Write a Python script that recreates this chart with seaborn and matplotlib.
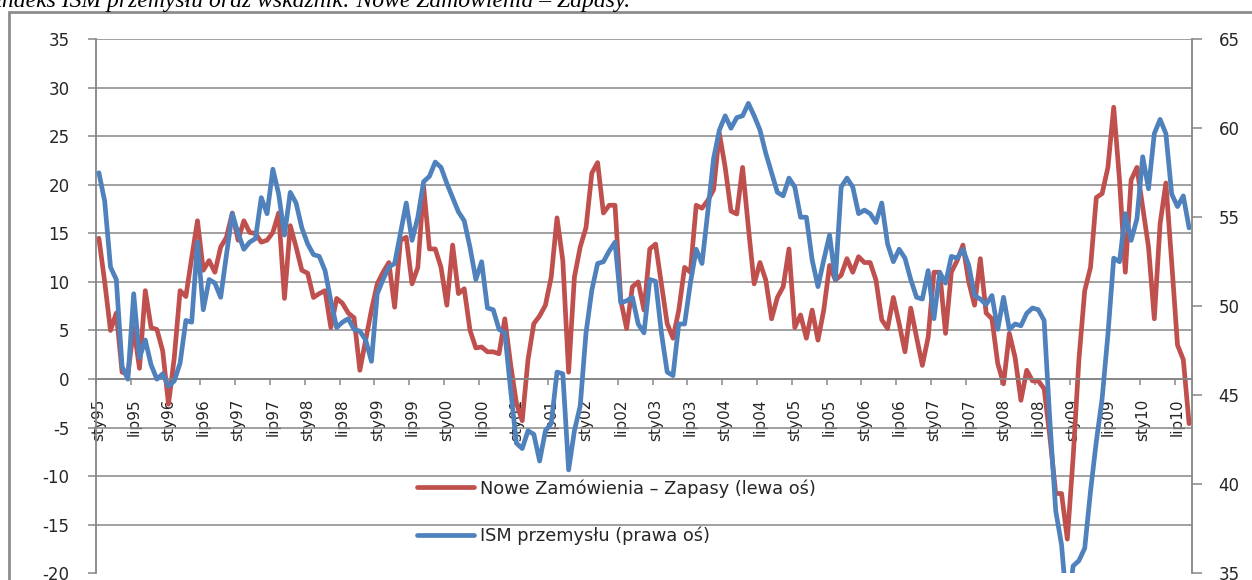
import numpy as np
import pandas as pd
import matplotlib
matplotlib.use("Agg")
import matplotlib.pyplot as plt
import seaborn as sns
from matplotlib.patches import Rectangle
from matplotlib.lines import Line2D

# ---------------- data (monthly, Jan 1995 - Sep 2010) ----------------
nz_minus_zapasy = [
    14.5, 10.0, 5.0, 6.8, 0.7, 0.5, 5.3, 1.1, 9.1, 5.3,
    5.1, 2.9, -2.6, 2.2, 9.1, 8.5, 12.5, 16.3, 11.2, 12.2,
    11.0, 13.6, 14.6, 17.1, 14.3, 16.3, 15.1, 15.0, 14.1, 14.3,
    15.1, 17.1, 8.3, 15.8, 13.6, 11.2, 10.9, 8.4, 8.8, 9.1,
    5.3, 8.3, 7.8, 6.8, 6.3, 0.9, 4.0, 7.1, 9.8, 11.0,
    12.0, 7.4, 14.3, 14.6, 9.8, 11.5, 19.8, 13.4, 13.4, 11.5,
    7.6, 13.8, 8.8, 9.3, 5.0, 3.2, 3.3, 2.8, 2.8, 2.6,
    6.2, 1.5, -2.5, -4.3, 2.0, 5.7, 6.5, 7.6, 10.5, 16.6,
    12.2, 0.7, 10.5, 13.6, 15.6, 21.2, 22.3, 17.1, 17.9, 17.9,
    8.1, 5.2, 9.5, 10.0, 7.1, 13.4, 13.9, 9.8, 5.7, 4.2,
    7.1, 11.5, 11.0, 17.9, 17.6, 18.4, 19.5, 25.3, 21.8, 17.3,
    17.0, 21.8, 15.6, 9.8, 12.0, 10.2, 6.2, 8.4, 9.5, 13.4,
    5.3, 6.6, 4.2, 7.1, 4.0, 7.1, 11.7, 10.2, 10.7, 12.4,
    11.0, 12.6, 12.0, 12.0, 10.2, 6.1, 5.2, 8.4, 5.7, 2.8,
    7.3, 4.3, 1.4, 4.3, 11.0, 11.0, 4.7, 11.0, 12.2, 13.8,
    10.0, 7.6, 12.4, 6.8, 6.2, 1.6, -0.5, 4.7, 2.2, -2.2,
    0.9, -0.2, -0.2, -1.0, -6.0, -11.8, -11.8, -16.5, -8.1, 2.0,
    9.1, 11.5, 18.7, 19.1, 21.8, 28.0, 20.5, 11.0, 20.5, 21.8,
    17.7, 13.6, 6.2, 16.0, 20.2, 12.0, 3.5, 2.0, -4.6,
]

ism = [
    57.5, 55.9, 52.2, 51.5, 46.6, 45.9, 50.7, 47.1, 48.1, 46.7,
    45.9, 46.2, 45.5, 45.8, 46.8, 49.2, 49.1, 53.6, 49.8, 51.5,
    51.3, 50.5, 52.9, 55.2, 54.1, 53.2, 53.6, 53.8, 56.1, 55.2,
    57.7, 56.3, 54.0, 56.4, 55.8, 54.4, 53.5, 52.9, 52.8, 52.0,
    50.3, 48.8, 49.1, 49.3, 48.7, 48.6, 48.1, 46.9, 50.7, 51.5,
    52.2, 52.4, 54.1, 55.8, 53.7, 55.0, 57.0, 57.3, 58.1, 57.8,
    56.9, 56.1, 55.3, 54.8, 53.3, 51.5, 52.5, 49.9, 49.8, 48.7,
    48.5, 45.3, 42.3, 42.0, 43.0, 42.8, 41.3, 43.0, 43.4, 46.3,
    46.2, 40.8, 43.0, 44.4, 48.5, 50.9, 52.4, 52.5, 53.1, 53.6,
    50.2, 50.3, 50.5, 49.0, 48.5, 51.5, 51.4, 48.5, 46.3, 46.1,
    49.0, 49.0, 51.3, 53.2, 52.4, 55.3, 58.3, 59.9, 60.7, 60.0,
    60.6, 60.7, 61.4, 60.7, 59.9, 58.6, 57.5, 56.4, 56.2, 57.2,
    56.7, 55.0, 55.0, 52.6, 51.1, 52.6, 54.0, 51.5, 56.7, 57.2,
    56.7, 55.2, 55.4, 55.2, 54.7, 55.8, 53.5, 52.5, 53.2, 52.7,
    51.5, 50.5, 50.4, 52.0, 49.3, 51.9, 51.3, 52.8, 52.7, 53.2,
    52.3, 50.6, 50.4, 50.1, 50.6, 48.7, 50.5, 48.7, 49.0, 48.9,
    49.6, 49.9, 49.8, 49.2, 43.5, 38.5, 36.6, 32.8, 35.4, 35.7,
    36.4, 39.6, 42.4, 44.8, 48.4, 52.7, 52.5, 55.2, 53.7, 54.9,
    58.4, 56.6, 59.7, 60.5, 59.7, 56.3, 55.6, 56.2, 54.4,
]

tick_labels = [
    "sty95", "lip95", "sty96", "lip96", "sty97", "lip97", "sty98", "lip98",
    "sty99", "lip99", "sty00", "lip00", "sty01", "lip01", "sty02", "lip02",
    "sty03", "lip03", "sty04", "lip04", "sty05", "lip05", "sty06", "lip06",
    "sty07", "lip07", "sty08", "lip08", "sty09", "lip09", "sty10", "lip10",
]

series_names = ["Nowe Zamówienia – Zapasy (lewa oś)", "ISM przemysłu (prawa oś)"]
title = "Indeks ISM przemysłu oraz wskaźnik: Nowe Zamówienia – Zapasy."

# ---------------- style ----------------
RED = "#C0504D"
BLUE = "#4F81BD"
GRID = "#868686"

sns.set_theme(style="white")
plt.rcParams["font.family"] = ["DejaVu Sans"]
plt.rcParams["axes.unicode_minus"] = False

W, H = 1252, 580
fig = plt.figure(figsize=(W / 100, H / 100), dpi=100)

x0, x1, y0, y1 = 96, 1192, 39.3, 573.1
ax = fig.add_axes([x0 / W, 1 - y1 / H, (x1 - x0) / W, (y1 - y0) / H])
ax.set_facecolor("none")

n = len(ism)
df = pd.DataFrame({"idx": np.arange(n), "nz": nz_minus_zapasy, "ism": ism})

sns.lineplot(data=df, x="idx", y="nz", ax=ax, color=RED, lw=3.4, legend=False)
ax2 = ax.twinx()
sns.lineplot(data=df, x="idx", y="ism", ax=ax2, color=BLUE, lw=3.4, legend=False)

ax.set_xlim(-0.5, n - 0.5)
ax.set_ylim(-20, 35)
ax2.set_ylim(35, 65)
ax.set_yticks(np.arange(-20, 36, 5))
ax2.set_yticks(np.arange(35, 66, 5))
ax.set_xlabel("")
ax.set_ylabel("")
ax2.set_ylabel("")

# gridlines (none at the very bottom, as in the reference)
ax.yaxis.grid(True, color=GRID, lw=1.1)
ax.set_axisbelow(True)
ax.yaxis.get_gridlines()[0].set_visible(False)

# spines
ax.spines["top"].set_visible(False)
ax2.spines["top"].set_visible(False)
ax.spines["right"].set_visible(False)
ax2.spines["left"].set_visible(False)
ax2.spines["bottom"].set_visible(False)
ax.spines["bottom"].set_position(("data", 0))
for sp in [ax.spines["left"], ax.spines["bottom"], ax2.spines["right"]]:
    sp.set_color(GRID)
    sp.set_linewidth(1.3)

# x ticks: marks at category boundaries, labels at category centres
ax.set_xticks(np.arange(-0.5, n, 6))
ax.set_xticklabels([])
ax.set_xticks(np.arange(0, n, 6), minor=True)
ax.set_xticklabels(tick_labels, minor=True, rotation=90, fontsize=11)
ax.tick_params(axis="x", which="major", direction="out", length=4, width=1.1, color=GRID, bottom=True)
ax.tick_params(axis="x", which="minor", length=0, pad=14, bottom=True)

ax.tick_params(axis="y", direction="out", length=6, width=1.1, color=GRID, pad=13, labelsize=12, left=True)
ax2.tick_params(axis="y", direction="out", length=7, width=1.1, color=GRID, pad=12, labelsize=12, right=True)

# legend
handles = [Line2D([], [], color=RED, lw=3.4), Line2D([], [], color=BLUE, lw=3.4)]
fig.legend(handles, series_names, loc="upper left",
           bbox_to_anchor=(417 / W, 1 - 479 / H), frameon=False,
           fontsize=12.8, handlelength=3.2, handletextpad=0.35,
           labelspacing=1.62, borderpad=0, borderaxespad=0)

# chart-area border (cropped Excel chart)
fig.patches.append(Rectangle((9 / W, -0.05), 1.2, 1 - 12 / H + 0.05,
                             transform=fig.transFigure, fill=False,
                             edgecolor="#8C8C8C", lw=2.0))

# cropped caption above the chart
fig.text(-6 / W, 1 - 7 / H, title, fontfamily="Liberation Serif", style="italic",
         fontsize=17, va="baseline", ha="left", color="black")

fig.savefig("out.png", dpi=100)
